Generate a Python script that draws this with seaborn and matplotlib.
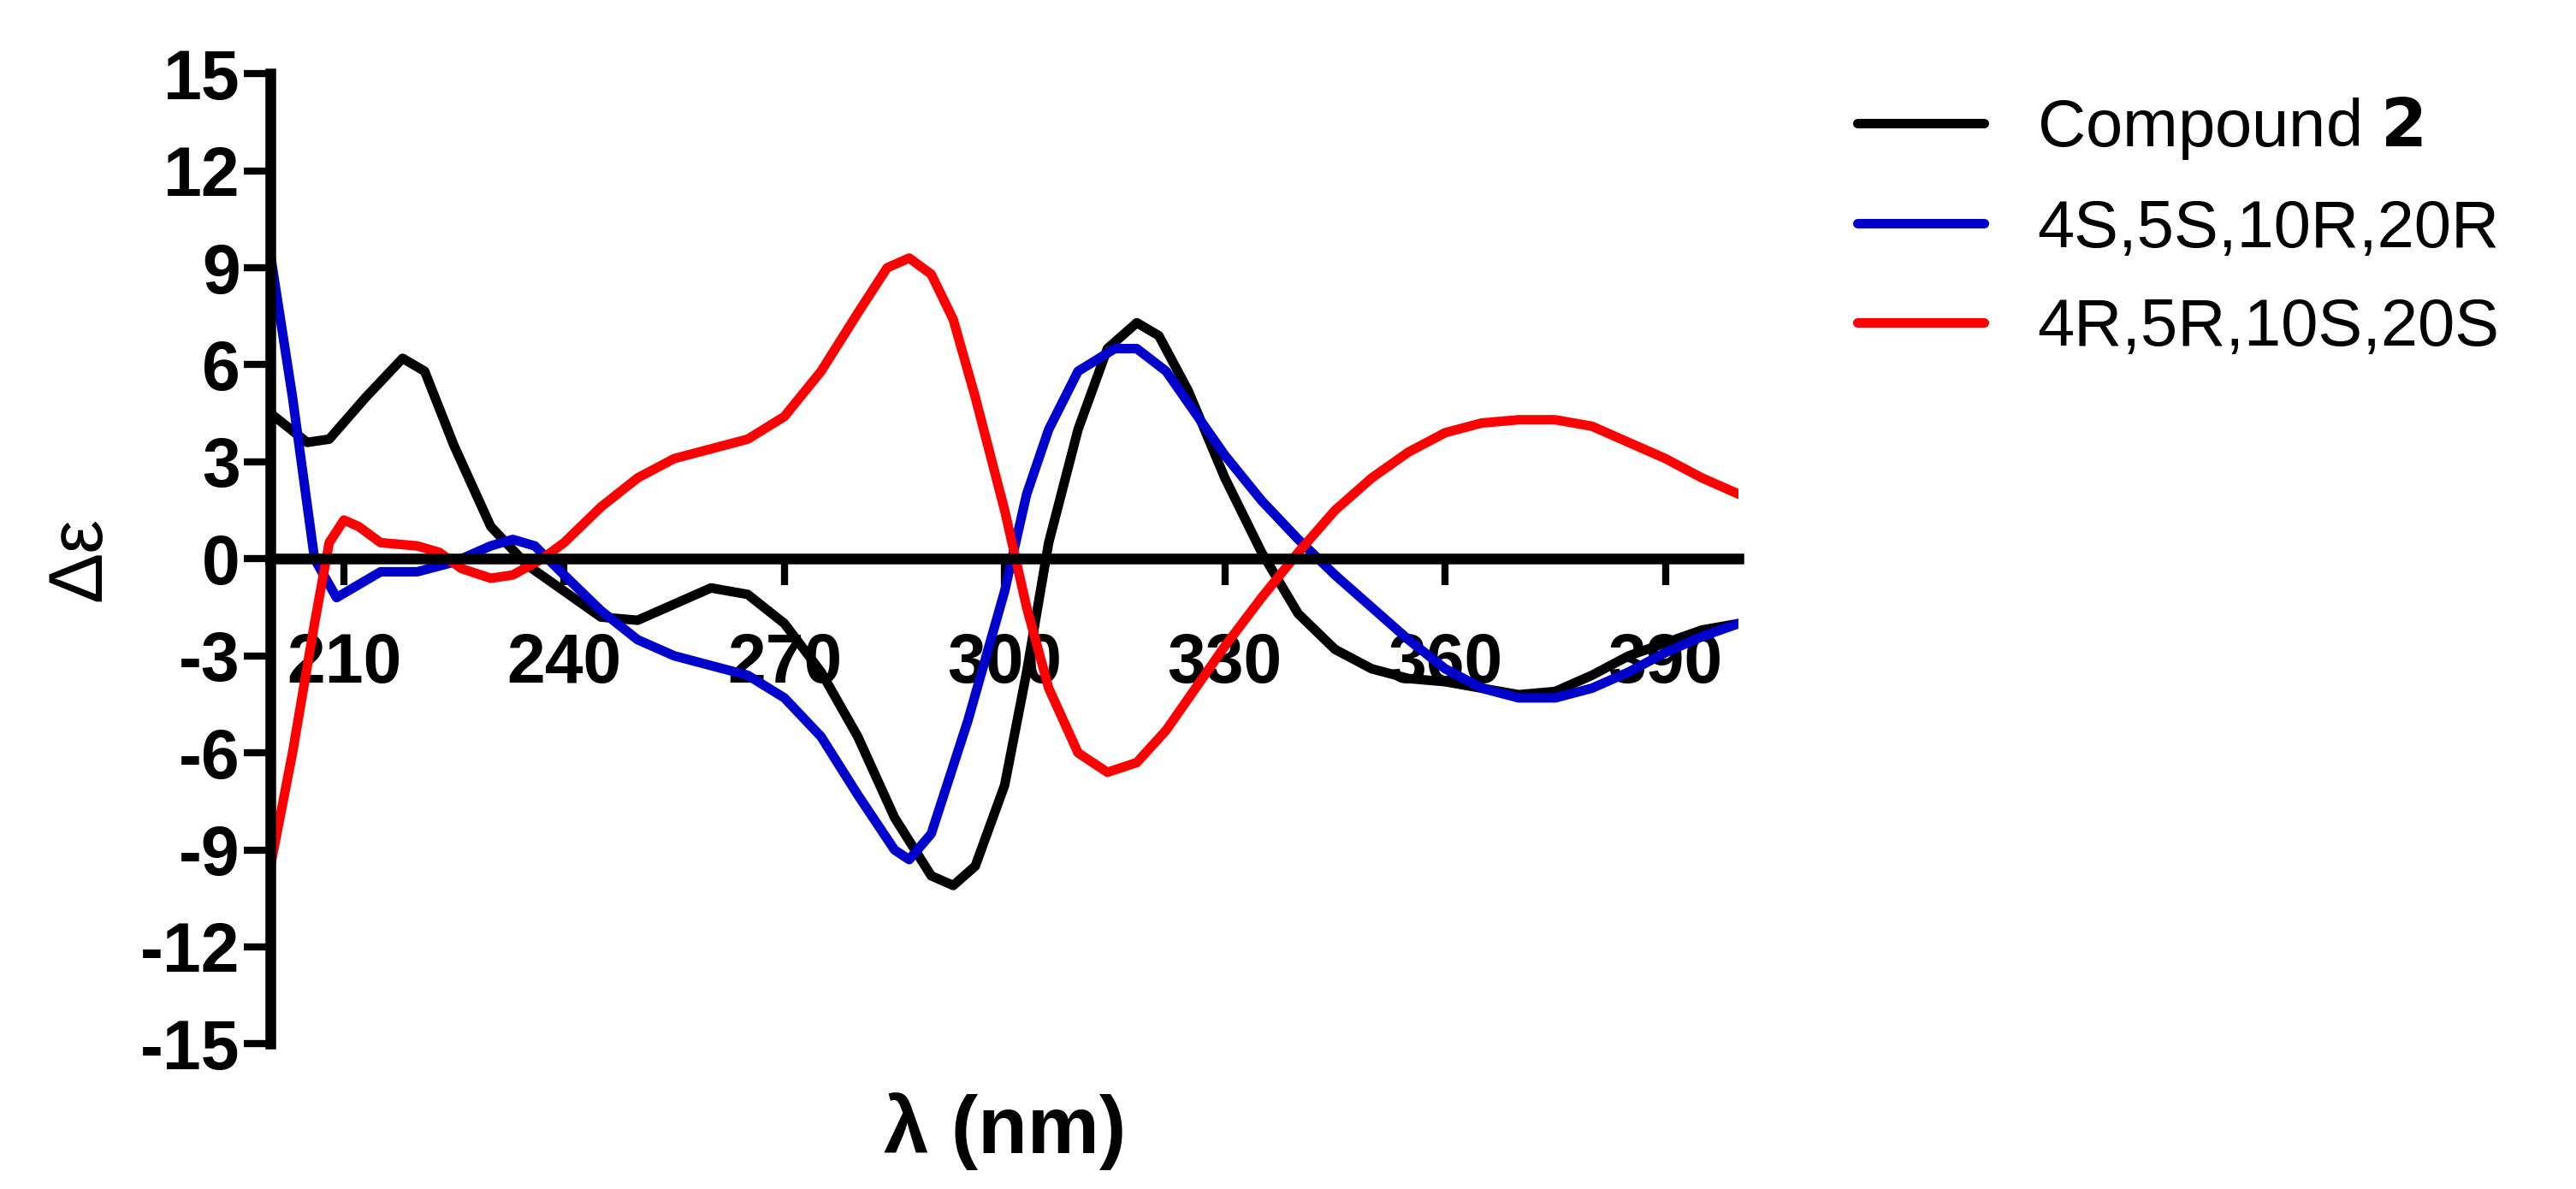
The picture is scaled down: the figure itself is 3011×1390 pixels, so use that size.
import matplotlib
matplotlib.use('Agg')
import matplotlib.pyplot as plt
import seaborn as sns
import pandas as pd

# CD spectra
bk_x = [200, 205, 208, 213, 218, 221, 225, 230, 235, 240, 245, 250, 255, 260, 265, 270, 275, 280, 285, 290,
        293, 296, 300, 303, 306, 310, 314, 318, 321, 325, 330, 335, 340, 345, 350, 355, 360, 365, 370, 375,
        380, 385, 390, 395, 400]
bk_y = [4.5, 3.6, 3.7, 5.0, 6.2, 5.8, 3.5, 1.0, -0.2, -1.0, -1.8, -1.9, -1.4, -0.9, -1.1, -2.0, -3.5, -5.5, -8.0, -9.8,
        -10.1, -9.5, -7.0, -3.5, 0.5, 4.0, 6.5, 7.3, 6.9, 5.2, 2.5, 0.2, -1.7, -2.8, -3.4, -3.7, -3.8, -4.0, -4.2, -4.1,
        -3.6, -3.0, -2.6, -2.2, -2.0]
bl_x = [200, 203, 206, 209, 212, 215, 220, 225, 230, 233, 236, 240, 245, 250, 255, 260, 265, 270, 275, 280,
        285, 287, 290, 295, 300, 303, 306, 310, 315, 318, 322, 326, 330, 335, 340, 345, 350, 355, 360, 365,
        370, 375, 380, 385, 390, 395, 400]
bl_y = [9.4, 5.0, 0.0, -1.2, -0.8, -0.4, -0.4, -0.1, 0.4, 0.6, 0.4, -0.5, -1.6, -2.5, -3.0, -3.3, -3.6, -4.3, -5.5, -7.3,
        -9.0, -9.3, -8.5, -5.0, -1.0, 2.0, 4.0, 5.8, 6.5, 6.5, 5.8, 4.5, 3.2, 1.8, 0.6, -0.5, -1.5, -2.5, -3.4, -4.0,
        -4.3, -4.3, -4.0, -3.5, -2.9, -2.4, -2.0]
rd_x = [200, 203, 206, 208, 210, 212, 215, 220, 223, 226, 230, 233, 237, 240, 245, 250, 255, 260, 265, 270,
        275, 280, 284, 287, 290, 293, 296, 300, 303, 306, 310, 314, 318, 322, 326, 330, 335, 340, 345, 350,
        355, 360, 365, 370, 375, 380, 385, 390, 395, 400]
rd_y = [-9.5, -6.0, -2.0, 0.5, 1.2, 1.0, 0.5, 0.4, 0.2, -0.3, -0.6, -0.5, 0.0, 0.5, 1.6, 2.5, 3.1, 3.4, 3.7, 4.4,
        5.8, 7.6, 9.0, 9.3, 8.8, 7.4, 5.0, 1.5, -1.5, -4.0, -6.0, -6.6, -6.3, -5.3, -4.0, -2.7, -1.2, 0.2, 1.5, 2.5,
        3.3, 3.9, 4.2, 4.3, 4.3, 4.1, 3.6, 3.1, 2.5, 2.0]
y_ticks = list(range(-15, 16, 3))

series = [('Compound $\\mathbf{2}$', bk_x, bk_y, '#000000'),
          ('4S,5S,10R,20R', bl_x, bl_y, '#0000cc'),
          ('4R,5R,10S,20S', rd_x, rd_y, '#ff0000')]

sns.set_style('white')
plt.rcParams['font.family'] = ['Liberation Sans', 'DejaVu Sans']
plt.rcParams['text.color'] = 'black'
plt.rcParams['axes.labelcolor'] = 'black'
plt.rcParams['xtick.color'] = 'black'
plt.rcParams['ytick.color'] = 'black'
plt.rcParams['axes.unicode_minus'] = False

fig = plt.figure(figsize=(30.11, 13.9), dpi=100)
ax = fig.add_axes([0.105, 0.122, 0.57, 0.816])

for name, xs, ys, col in series:
    df = pd.DataFrame({'x': xs, 'y': ys})
    sns.lineplot(data=df, x='x', y='y', ax=ax, color=col, lw=8, label=name)

ax.set_xlim(200, 400)
ax.set_ylim(-15, 15)
ax.set_xticks(range(210, 400, 30))
ax.set_yticks(y_ticks)
ax.set_yticklabels([str(v) for v in y_ticks])
ax.spines['bottom'].set_position(('data', 0))
ax.spines['top'].set_visible(False)
ax.spines['right'].set_visible(False)
for s in ['left', 'bottom']:
    ax.spines[s].set_linewidth(9)
    ax.spines[s].set_color('black')
ax.tick_params(axis='both', length=22, width=6, direction='out', labelsize=58, bottom=True, left=True)
ax.tick_params(axis='x', pad=40)
for t in ax.get_xticklabels() + ax.get_yticklabels():
    t.set_fontweight('bold')
ax.set_xlabel('')
ax.set_ylabel('Δε', fontsize=64, labelpad=20)
fig.text(0.39, 0.03, 'λ (nm)', fontsize=68, fontweight='bold', ha='center')

leg = ax.legend(loc='upper left', bbox_to_anchor=(1.04, 1.04), frameon=False, fontsize=56,
                handlelength=1.9, labelspacing=0.55)
for h in leg.get_lines():
    h.set_linewidth(8)

fig.savefig('out.png', dpi=100)
